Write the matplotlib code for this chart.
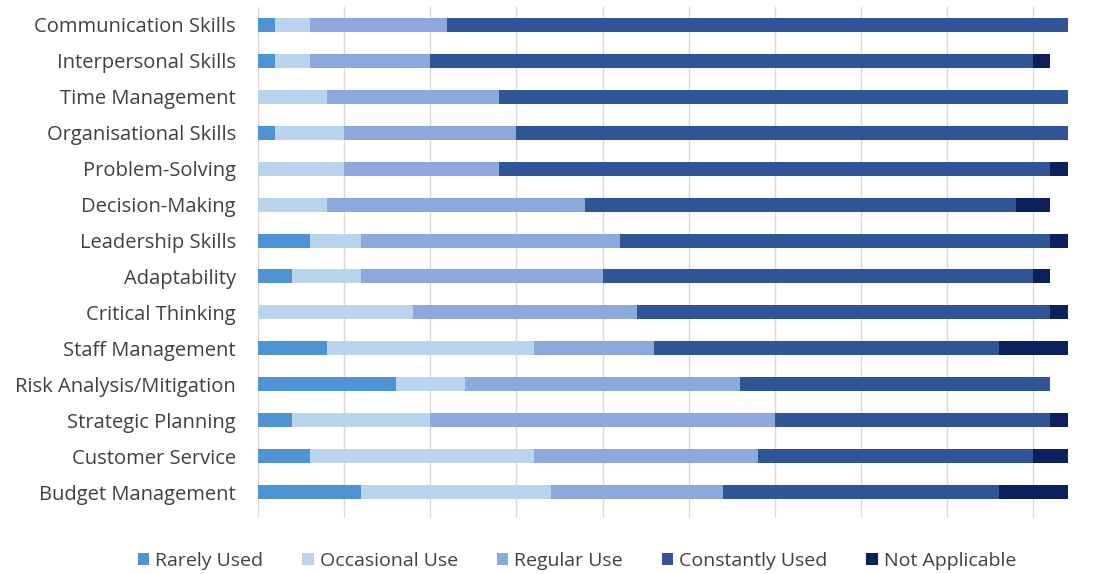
import matplotlib.pyplot as plt
import numpy as np

plt.rcParams['font.family'] = ['Open Sans', 'DejaVu Sans']

skills = ['Communication Skills', 'Interpersonal Skills', 'Time Management',
          'Organisational Skills', 'Problem-Solving', 'Decision-Making',
          'Leadership Skills', 'Adaptability', 'Critical Thinking',
          'Staff Management', 'Risk Analysis/Mitigation', 'Strategic Planning',
          'Customer Service', 'Budget Management']
series_names = ['Rarely Used', 'Occasional Use', 'Regular Use',
                'Constantly Used', 'Not Applicable']

rarely = [1, 1, 0, 1, 0, 0, 3, 2, 0, 4, 8, 2, 3, 6]
occasional = [2, 2, 4, 4, 5, 4, 3, 4, 9, 12, 4, 8, 13, 11]
regular = [8, 7, 10, 10, 9, 15, 15, 14, 13, 7, 16, 20, 13, 10]
constantly = [36, 35, 33, 32, 32, 25, 25, 25, 24, 20, 18, 16, 16, 16]
not_applicable = [0, 1, 0, 0, 1, 2, 1, 1, 1, 4, 0, 1, 2, 4]

colors = ['#4E93D3', '#BAD4EE', '#8DA9DC', '#2F5597', '#0C205E']

fig = plt.figure(figsize=(11.1, 5.74), dpi=100)
ax = fig.add_axes([258 / 1110, 1 - 510 / 574, 851 / 1110, 503 / 574])

y = np.arange(len(skills))
left = np.zeros(len(skills))
for name, vals, c in zip(series_names,
                         [rarely, occasional, regular, constantly, not_applicable],
                         colors):
    ax.barh(y, vals, left=left, height=0.39, color=c, label=name, zorder=3)
    left += np.array(vals)

ax.set_xlim(0, 49.4)
ax.set_ylim(len(skills) - 0.5, -0.5)
ax.set_yticks(y)
ax.set_yticklabels(skills, fontsize=14.5, color='#404040')
ax.set_xticks(np.arange(0, 50, 5))
ax.set_xticklabels([])
ax.tick_params(axis='y', length=0, pad=16)
ax.tick_params(axis='x', length=5, color='#D9D9D9')
ax.grid(axis='x', color='#D9D9D9', linewidth=1, zorder=0)
for s in ['top', 'right', 'bottom']:
    ax.spines[s].set_visible(False)
ax.spines['left'].set_color('#E2D9D9')

handles, labels = ax.get_legend_handles_labels()
fig.legend(handles, labels, loc='center', bbox_to_anchor=(577 / 1110, 1 - 561 / 574),
           ncol=5, frameon=False, fontsize=14, handlelength=0.6, handleheight=0.6,
           handletextpad=0.3, columnspacing=2.0, labelcolor='#404040')

fig.savefig('out.png', dpi=100)
